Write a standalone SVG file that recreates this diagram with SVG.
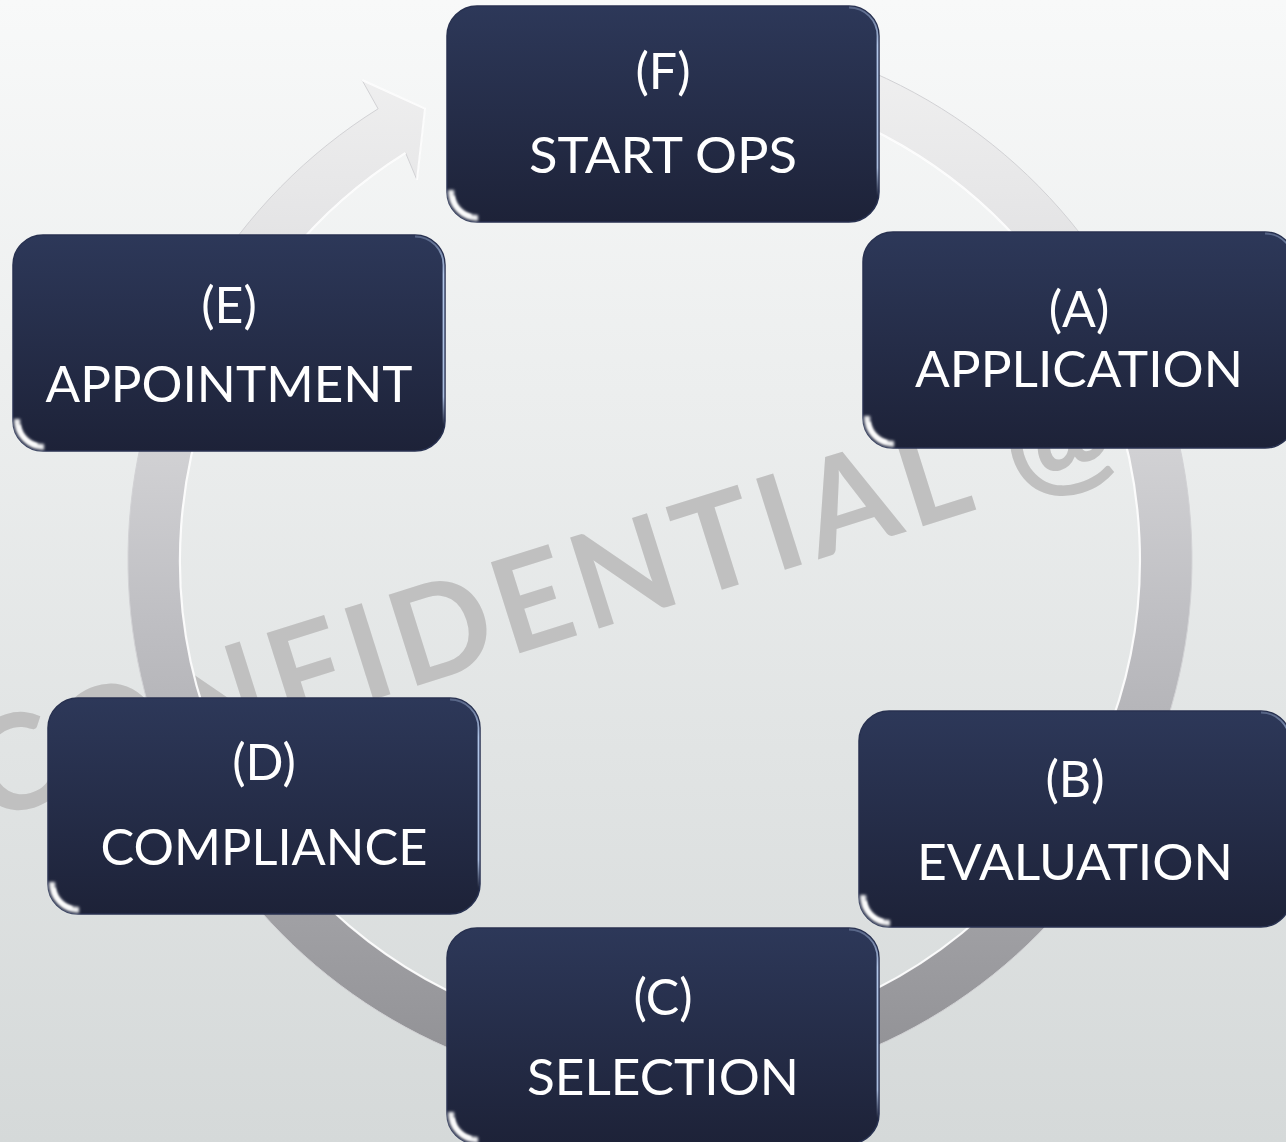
<svg xmlns="http://www.w3.org/2000/svg" width="1286" height="1142" viewBox="0 0 1286 1142">
<defs>
  <style>
    .lbl { font-family: Lato, "Liberation Sans", sans-serif; font-size: 50px; fill: #ffffff; text-anchor: middle; }
    .wm { font-family: Lato, "Liberation Sans", sans-serif; font-size: 132px; font-weight: 700; fill: #c0c0c0; }
  </style>
  <linearGradient id="bg" x1="0" y1="0" x2="0" y2="1">
    <stop offset="0" stop-color="#f8f9f9"/>
    <stop offset="1" stop-color="#d5d9d9"/>
  </linearGradient>
  <linearGradient id="ringFill" gradientUnits="userSpaceOnUse" x1="0" y1="30" x2="0" y2="1095">
    <stop offset="0" stop-color="#f2f2f2"/>
    <stop offset="0.3" stop-color="#dcdcde"/>
    <stop offset="0.55" stop-color="#bfbfc3"/>
    <stop offset="1" stop-color="#8e8e92"/>
  </linearGradient>
  <linearGradient id="boxFill" x1="0" y1="0" x2="0" y2="1">
    <stop offset="0" stop-color="#2d3859"/>
    <stop offset="1" stop-color="#1d2238"/>
  </linearGradient>
  <linearGradient id="topHi" x1="0" y1="0" x2="1" y2="0">
    <stop offset="0" stop-color="#a8b0cc" stop-opacity="0"/>
    <stop offset="0.1" stop-color="#a8b0cc" stop-opacity="0.8"/>
    <stop offset="0.9" stop-color="#a8b0cc" stop-opacity="0.8"/>
    <stop offset="1" stop-color="#a8b0cc" stop-opacity="0"/>
  </linearGradient>
  <linearGradient id="sideHi" x1="0" y1="0" x2="0" y2="1">
    <stop offset="0" stop-color="#b8cdf0" stop-opacity="0.3"/>
    <stop offset="0.2" stop-color="#b8cdf0" stop-opacity="0.95"/>
    <stop offset="0.85" stop-color="#b8cdf0" stop-opacity="0.9"/>
    <stop offset="1" stop-color="#b8cdf0" stop-opacity="0"/>
  </linearGradient>
  <filter id="soft" x="-20%" y="-20%" width="140%" height="140%">
    <feGaussianBlur stdDeviation="1.3"/>
  </filter>
  <filter id="glow" x="-50%" y="-50%" width="200%" height="200%">
    <feGaussianBlur stdDeviation="1.8"/>
  </filter>
  <g id="box">
    <rect x="0" y="0" width="432" height="216" rx="30" fill="url(#boxFill)" stroke="#283150" stroke-width="1.5"/>
    <path d="M 26 6 H 406" stroke="url(#topHi)" stroke-width="3" fill="none" filter="url(#soft)"/>
    <path d="M 5 40 V 180" stroke="#5a6890" stroke-width="2" opacity="0.6" fill="none" filter="url(#soft)"/>
    <path d="M 402 1.5 A 28.5 28.5 0 0 1 430.5 30 V 190" stroke="url(#sideHi)" stroke-width="1.8" fill="none"/>
    <path d="M 4 184 A 27 27 0 0 0 31 212" stroke="#ffffff" stroke-width="6" fill="none" filter="url(#glow)" opacity="0.95"/>
    <path d="M 6 190 A 22 22 0 0 0 24 210" stroke="#ffffff" stroke-width="3" fill="none" filter="url(#soft)"/>
  </g>
</defs>

<rect x="0" y="0" width="1286" height="1142" fill="url(#bg)"/>

<g id="watermark">
  <text class="wm" transform="translate(-15,822) rotate(-17.5)" x="0" y="0" textLength="1195" lengthAdjust="spacing">CONFIDENTIAL @</text>
</g>

<g id="connectors">
  <path d="M 706.4 30 A 532 532 0 1 1 378.1 108.8 L 362 80 L 425 108.5 L 417 180 L 405.6 152.9 A 480 480 0 1 0 701.8 81.8 Z" fill="url(#ringFill)" stroke="#d2d2d5" stroke-width="1"/>
  <path d="M 405.6 152.9 A 480 480 0 1 0 701.8 81.8" fill="none" stroke="#ffffff" stroke-width="2.2" opacity="0.9"/>
  <path d="M 362 80 L 425 108.5 L 417 180" fill="none" stroke="#ffffff" stroke-width="2" opacity="0.9"/>
</g>

<g id="node-F" transform="translate(447,6)">
  <use href="#box"/>
  <text class="lbl" x="216" y="83">(F)</text>
  <text class="lbl" x="216" y="167" textLength="268" lengthAdjust="spacingAndGlyphs">START OPS</text>
</g>
<g id="node-E" transform="translate(13,235)">
  <use href="#box"/>
  <text class="lbl" x="216" y="88">(E)</text>
  <text class="lbl" x="216" y="167" textLength="367" lengthAdjust="spacingAndGlyphs">APPOINTMENT</text>
</g>
<g id="node-A" transform="translate(863,232)">
  <use href="#box"/>
  <text class="lbl" x="216" y="95">(A)</text>
  <text class="lbl" x="216" y="155" textLength="328" lengthAdjust="spacingAndGlyphs">APPLICATION</text>
</g>
<g id="node-D" transform="translate(48,698)">
  <use href="#box"/>
  <text class="lbl" x="216" y="82">(D)</text>
  <text class="lbl" x="216" y="167" textLength="327" lengthAdjust="spacingAndGlyphs">COMPLIANCE</text>
</g>
<g id="node-B" transform="translate(859,711)">
  <use href="#box"/>
  <text class="lbl" x="216" y="86">(B)</text>
  <text class="lbl" x="216" y="169" textLength="316" lengthAdjust="spacingAndGlyphs">EVALUATION</text>
</g>
<g id="node-C" transform="translate(447,928)">
  <use href="#box"/>
  <text class="lbl" x="216" y="87">(C)</text>
  <text class="lbl" x="216" y="167" textLength="272" lengthAdjust="spacingAndGlyphs">SELECTION</text>
</g>
</svg>
